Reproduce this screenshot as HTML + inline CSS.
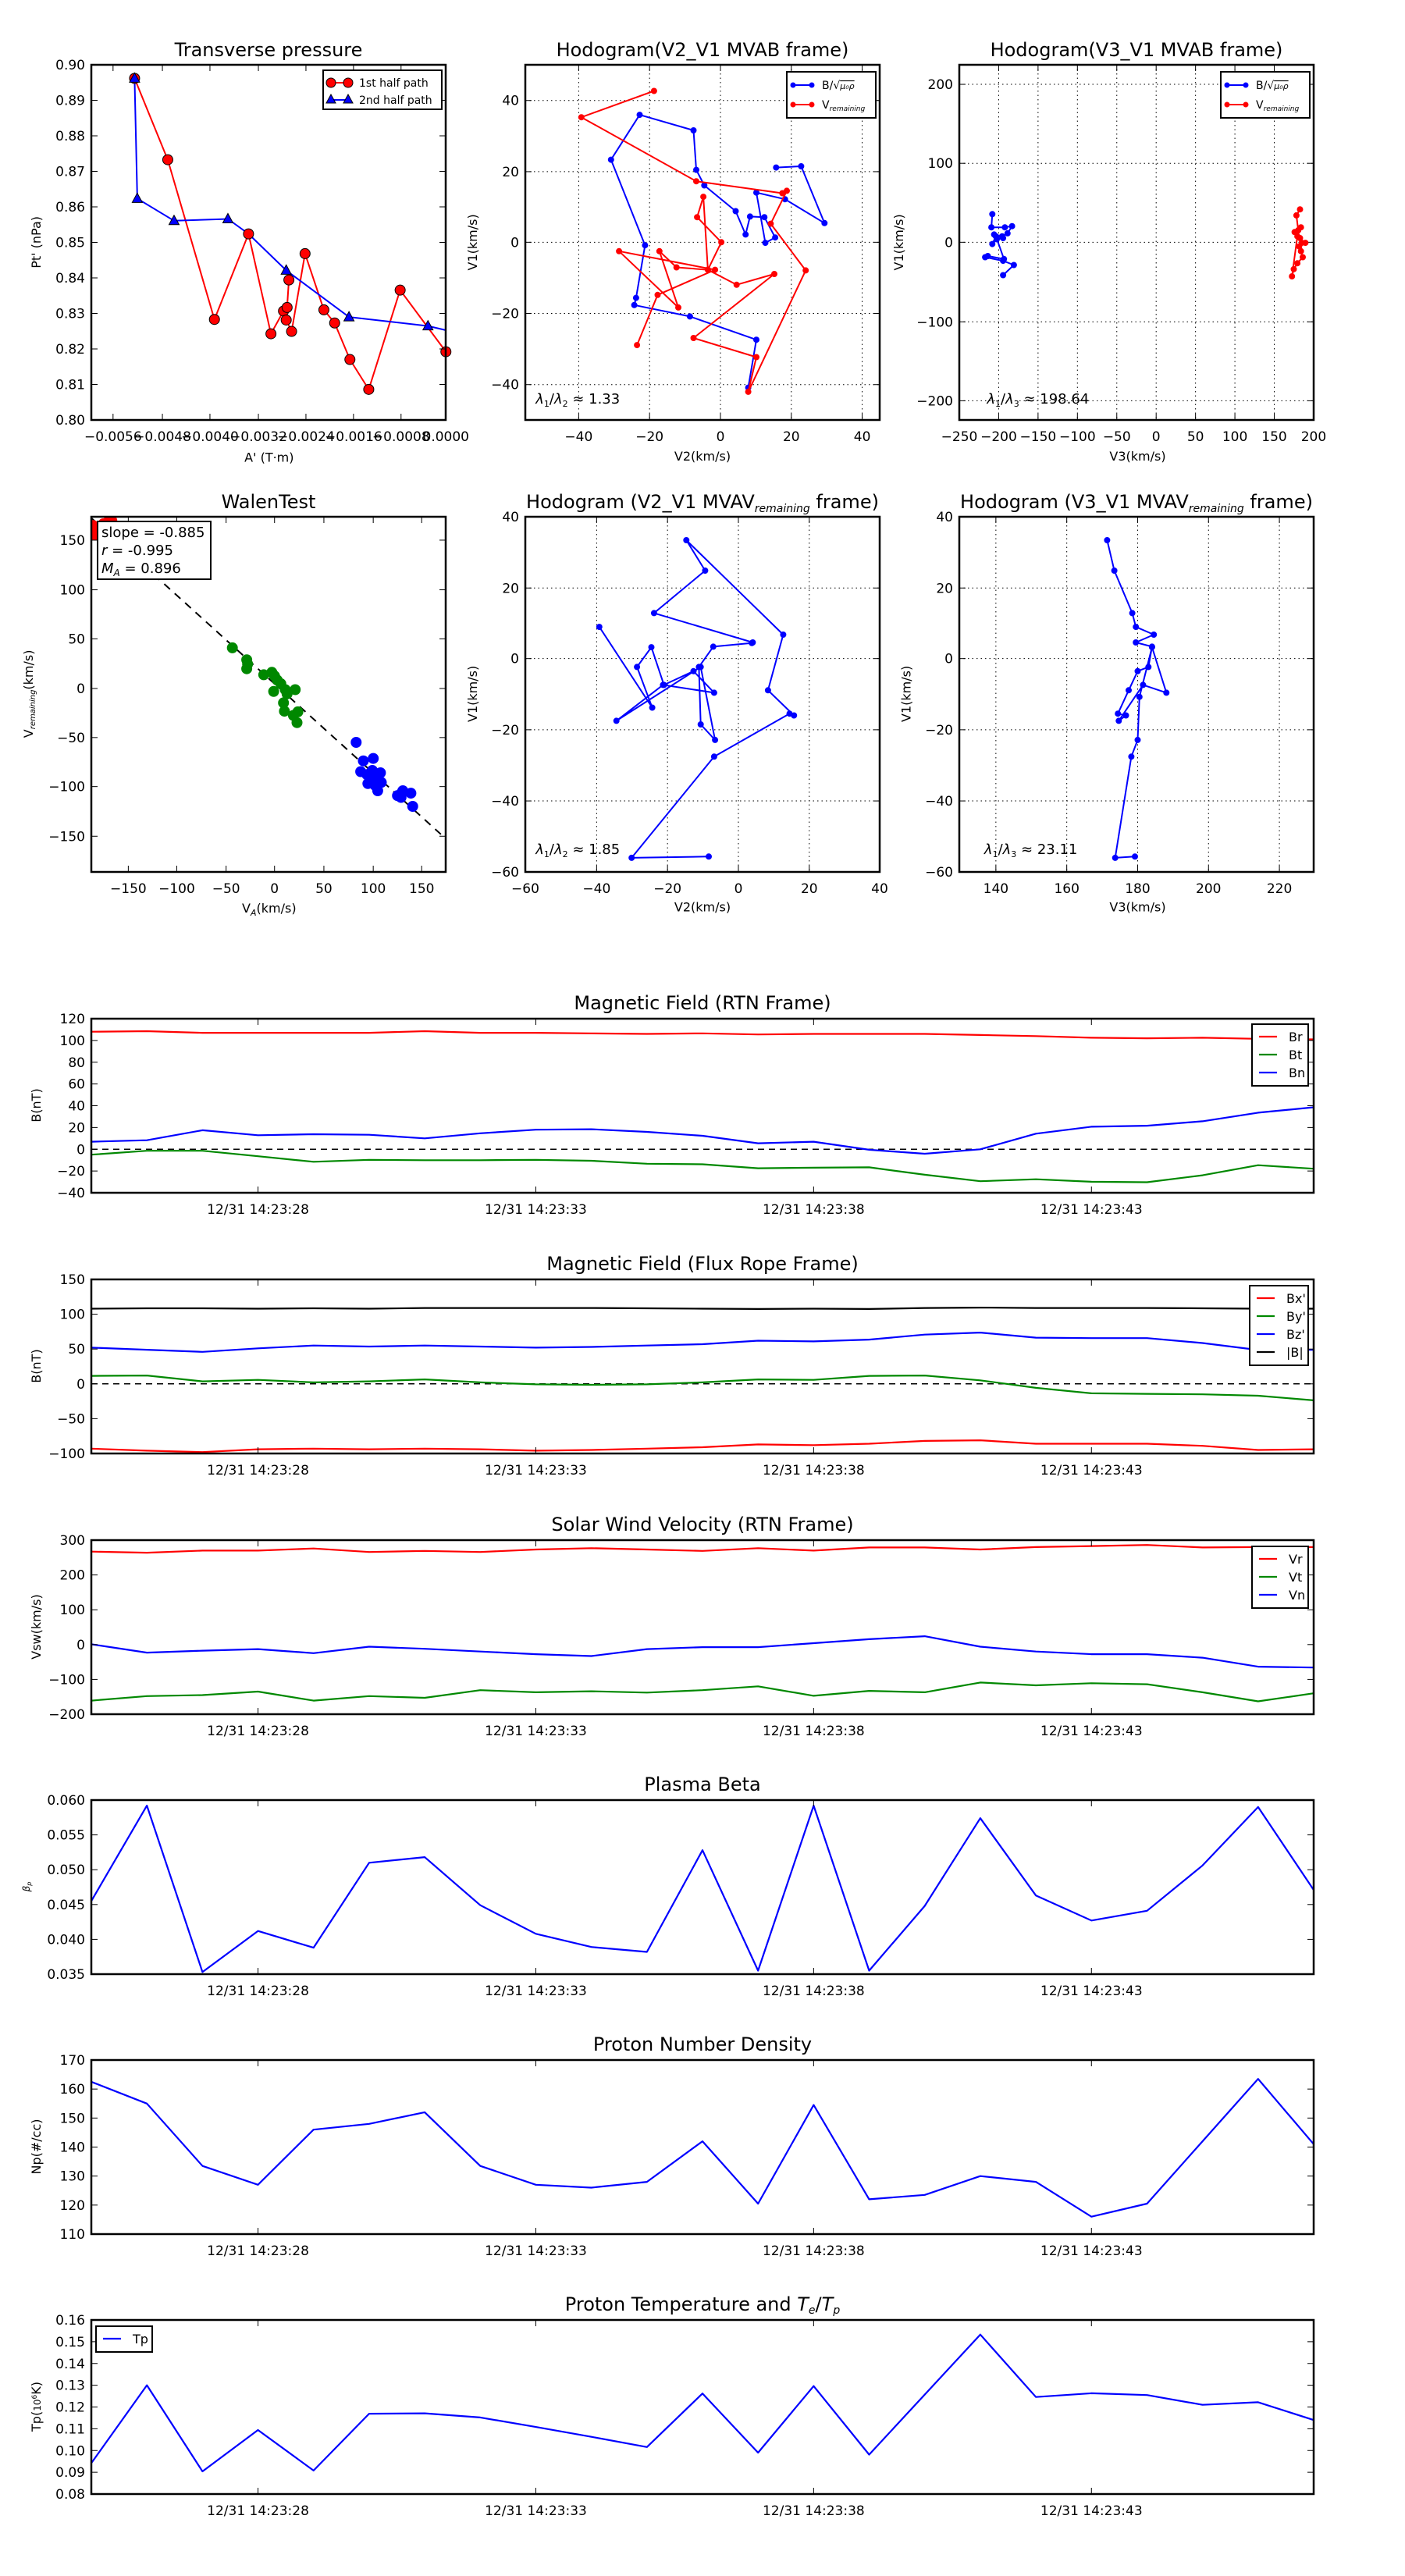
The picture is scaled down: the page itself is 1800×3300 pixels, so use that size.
<!DOCTYPE html>
<html><head><meta charset="utf-8"><style>
html,body{margin:0;padding:0;background:#fff;}
svg{display:block;font-family:"DejaVu Sans","Liberation Sans",sans-serif;}
</style></head><body>
<svg id="c" xmlns="http://www.w3.org/2000/svg" width="1800" height="3300" viewBox="0 0 1800 3300"></svg>
<script>
let s='';
const SX=0.870, SY=1.305;
function X(d){return d/SX;} function Y(d){return d/SY;}
function L(x1,y1,x2,y2,c,w,ex){s+=`<line x1="${x1}" y1="${y1}" x2="${x2}" y2="${y2}" stroke="${c||'#000'}" stroke-width="${w||1}" ${ex||''}/>`;}
function T(x,y,t,sz,anc,ex){s+=`<text x="${x}" y="${y}" font-size="${sz||17}" text-anchor="${anc||'middle'}" ${ex||''}>${t}</text>`;}
function PL(pts,c,w,ex){s+=`<polyline points="${pts.map(p=>p[0].toFixed(1)+','+p[1].toFixed(1)).join(' ')}" fill="none" stroke="${c}" stroke-width="${w||2}" stroke-linejoin="round" ${ex||''}/>`;}
function DOTS(pts,c,r){pts.forEach(p=>{s+=`<circle cx="${p[0].toFixed(1)}" cy="${p[1].toFixed(1)}" r="${r}" fill="${c}" stroke="${c}"/>`;});}
function frame(l,t,r,b){s+=`<rect x="${l}" y="${t}" width="${r-l}" height="${b-t}" fill="none" stroke="#000" stroke-width="2.5"/>`;}
// box, xt [[px,label]], yt [[py,label]], grid
function axes(l,t,r,b,xt,yt,grid){
  xt.forEach(([p,lab])=>{
    if(grid) L(p,t,p,b,'#000',1,'stroke-dasharray="1.5,4"');
    L(p,b,p,b-8);L(p,t,p,t+8);
    T(p,b+27,lab,17);
  });
  yt.forEach(([p,lab])=>{
    if(grid) L(l,p,r,p,'#000',1,'stroke-dasharray="1.5,4"');
    L(l,p,l+8,p);L(r,p,r-8,p);
    T(l-8,p+6,lab,17,'end');
  });
}
function ylab(x,y,t,sz){s+=`<text x="${x}" y="${y}" font-size="${sz||16}" text-anchor="middle" transform="rotate(-90 ${x} ${y})">${t}</text>`;}
const M=p=>[X(p[0]),Y(p[1])];

// ===== Panel 1: Transverse pressure
{
 const l=117,t=83,r=571,b=538;
 const red=[[150,131],[187,267],[239,534],[277,391],[302,558],[316,520],[320,514],[322,468],[319,535],[325,554],[340,424],[361,518],[373,540],[390,601],[411,651],[446,485],[497,588]].map(M);
 const blue=[[150,131],[153,332],[194,369],[254,366],[277,391],[319,452],[389,530],[477,545],[497,552]].map(M);
 PL(red,'#f00',2); PL(blue,'#00f',2);
 red.forEach(p=>{s+=`<circle cx="${p[0]}" cy="${p[1]}" r="6.5" fill="#f00" stroke="#000" stroke-width="1"/>`;});
 [[150,131],[153,332],[194,369],[254,366],[319,452],[389,530],[477,545]].map(M).forEach(p=>{s+=`<polygon points="${p[0]},${p[1]-7} ${p[0]-6.5},${p[1]+5} ${p[0]+6.5},${p[1]+5}" fill="#00f" stroke="#000" stroke-width="1"/>`;});
 frame(l,t,r,b);
 const xl=['−0.0056','−0.0048','−0.0040','−0.0032','−0.0024','−0.0016','−0.0008','0.0000'];
 axes(l,t,r,b,[126,181,234,288,341,394,447,497].map((d,i)=>[X(d),xl[i]]),
   Array.from({length:11},(_,k)=>[b-k*45.5,(0.80+k*0.01).toFixed(2)]),false);
 T(344,72,'Transverse pressure',24);
 T(X(300),Y(764)+6,"A' (T·m)",16);
 ylab(52,Y(405),"Pt' (nPa)");
 // legend
 s+=`<rect x="414" y="90" width="152" height="50" fill="#fff" stroke="#000" stroke-width="2"/>`;
 L(424,106,446,106,'#f00',2);
 s+=`<circle cx="424" cy="106" r="6" fill="#f00" stroke="#000"/><circle cx="446" cy="106" r="6" fill="#f00" stroke="#000"/>`;
 L(424,128,446,128,'#00f',2);
 s+=`<polygon points="424,121 418,132 430,132" fill="#00f" stroke="#000"/><polygon points="446,121 440,132 452,132" fill="#00f" stroke="#000"/>`;
 T(460,111,'1st half path',14,'start');T(460,133,'2nd half path',14,'start');
}
function hodoLegend(x,y){
 s+=`<rect x="${x}" y="${y}" width="114" height="59" fill="#fff" stroke="#000" stroke-width="2"/>`;
 L(x+8,y+17,x+32,y+17,'#00f',2);DOTS([[x+8,y+17],[x+32,y+17]],'#00f',3);
 L(x+8,y+42,x+32,y+42,'#f00',2);DOTS([[x+8,y+42],[x+32,y+42]],'#f00',3);
 T(x+45,y+22,'B/√<tspan font-style="italic" font-size="11" text-decoration="overline">μ₀ρ</tspan>',14,'start');
 T(x+45,y+47,'V<tspan font-size="9" font-style="italic" dy="3">remaining</tspan>',14,'start');
}
// ===== Panel 2
{
 const l=673,t=83,r=1127,b=538;
 frame(l,t,r,b);
 axes(l,t,r,b,[[X(645),'−40'],[X(724),'−20'],[X(803),'0'],[X(882),'20'],[X(961),'40']],
   [[Y(168),'40'],[Y(287),'20'],[Y(405),'0'],[Y(524),'−20'],[Y(643),'−40']],true);
 const blue=[[865,280],[893,278],[919,373],[875,333],[843,322],[853,406],[864,397],[852,363],[836,362],[831,392],[820,353],[785,310],[776,284],[773,218],[713,192],[681,267],[719,410],[709,498],[707,510],[769,529],[843,568],[834,648]].map(M);
 const red=[[729,152],[648,196],[776,303],[872,323],[877,319],[859,374],[898,452],[834,655],[843,597],[773,565],[863,458],[821,476],[789,451],[804,405],[777,363],[784,329],[789,451],[754,447],[735,420],[756,514],[690,420],[797,451],[733,493],[710,577]].map(M);
 PL(blue,'#00f',2);DOTS(blue,'#00f',3.5);PL(red,'#f00',2);DOTS(red,'#f00',3.5);
 hodoLegend(1008,92);
 T(X(597),Y(667)+6,'<tspan font-style="italic">λ</tspan><tspan font-size="11" dy="4">1</tspan><tspan dy="-4">/</tspan><tspan font-style="italic">λ</tspan><tspan font-size="11" dy="4">2</tspan><tspan dy="-4"> ≈ 1.33</tspan>',18,'start');
 T(900,72,'Hodogram(V2_V1 MVAB frame)',24);
 T(X(783),Y(762)+6,'V2(km/s)',16);
 ylab(X(530)+2,Y(405),'V1(km/s)');
}
// ===== Panel 3
{
 const l=1229,t=83,r=1683,b=538;
 frame(l,t,r,b);
 const xl=['−250','−200','−150','−100','−50','0','50','100','150','200'];
 axes(l,t,r,b,xl.map((lab,k)=>[l+k*50.44,lab]),
   [[Y(141),'200'],[Y(273),'100'],[Y(405),'0'],[Y(538),'−100'],[Y(670),'−200']],true);
 const blue=[[1106,358],[1105,380],[1120,380],[1128,378],[1123,390],[1117,395],[1108,392],[1118,398],[1111,400],[1106,408],[1110,395],[1119,433],[1101,428],[1098,430],[1118,436],[1130,443],[1118,460]].map(M);
 const red=[[1449,350],[1445,360],[1447,385],[1443,388],[1449,398],[1451,406],[1455,406],[1448,412],[1450,420],[1452,430],[1446,440],[1442,450],[1440,462],[1446,395],[1450,380]].map(M);
 PL(blue,'#00f',2);DOTS(blue,'#00f',3.5);PL(red,'#f00',2);DOTS(red,'#f00',3.5);
 hodoLegend(1564,92);
 T(X(1100),Y(667)+6,'<tspan font-style="italic">λ</tspan><tspan font-size="11" dy="4">1</tspan><tspan dy="-4">/</tspan><tspan font-style="italic">λ</tspan><tspan font-size="11" dy="4">3</tspan><tspan dy="-4"> ≈ 198.64</tspan>',18,'start');
 T(1456,72,'Hodogram(V3_V1 MVAB frame)',24);
 T(X(1268),Y(762)+6,'V3(km/s)',16);
 ylab(X(1005)+2,Y(405),'V1(km/s)');
}
// ===== Row2 Panel 1: Walen
{
 const l=117,t=662,r=571,b=1117;
 const xs=[143,197,252,306,361,416,470], xl=['−150','−100','−50','0','50','100','150'];
 const ys=[903,986,1068,1151,1233,1315,1398], yl=['150','100','50','0','−50','−100','−150'];
 L(l,Y(866),r,Y(1402),'#000',2,'stroke-dasharray="10,8"');
 const green=[[259,1083],[275,1103],[276,1110],[275,1118],[294,1128],[303,1124],[305,1156],[309,1137],[313,1143],[318,1153],[316,1175],[320,1160],[329,1153],[317,1189],[327,1196],[332,1190],[331,1208],[306,1130]].map(M);
 const blue=[[397,1241],[402,1290],[405,1272],[416,1268],[409,1295],[415,1288],[420,1300],[424,1292],[412,1305],[418,1313],[421,1322],[425,1308],[410,1310],[443,1330],[448,1325],[449,1322],[458,1326],[447,1333],[460,1348]].map(M);
 const red=[[104,888],[106,895],[110,880],[115,875],[120,872],[125,870],[104,878]].map(M);
 DOTS(green,'#080',6.5);DOTS(blue,'#00f',6.5);
 s+=`<clipPath id="cp1"><rect x="${l}" y="${t}" width="${r-l}" height="${b-t}"/></clipPath><g clip-path="url(#cp1)">`;
 red.forEach(p=>{s+=`<circle cx="${p[0]}" cy="${p[1]}" r="6.5" fill="#f00"/>`;});
 s+=`</g>`;
 frame(l,t,r,b);
 axes(l,t,r,b,xs.map((d,i)=>[X(d),xl[i]]),ys.map((d,i)=>[Y(d),yl[i]]),false);
 s+=`<rect x="125" y="668" width="145" height="74" fill="#fff" stroke="#000" stroke-width="2"/>`;
 T(130,688,'slope = -0.885',18,'start');
 T(130,711,'<tspan font-style="italic">r</tspan> = -0.995',18,'start');
 T(130,734,'<tspan font-style="italic">M</tspan><tspan font-size="12" font-style="italic" dy="4">A</tspan><tspan dy="-4"> = 0.896</tspan>',18,'start');
 T(344,651,'WalenTest',24);
 T(X(300),Y(1518)+6,'V<tspan font-size="11" font-style="italic" dy="4">A</tspan><tspan dy="-4">(km/s)</tspan>',16);
 ylab(X(35)+2,Y(1160),'V<tspan font-size="10" font-style="italic" dy="3">remaining</tspan><tspan dy="-3">(km/s)</tspan>');
}
// ===== Row2 Panel 2
{
 const l=673,t=662,r=1127,b=1117;
 frame(l,t,r,b);
 axes(l,t,r,b,[[673,'−60'],[X(665),'−40'],[X(744),'−20'],[X(823),'0'],[X(902),'20'],[1127,'40']],
   [[662,'40'],[Y(983),'20'],[Y(1101),'0'],[Y(1220),'−20'],[Y(1339),'−40'],[1117,'−60']],true);
 const blue=[[790,1432],[704,1434],[796,1265],[880,1193],[885,1196],[856,1154],[873,1061],[765,903],[786,954],[729,1025],[839,1074],[838,1075],[795,1081],[779,1115],[781,1211],[797,1237],[781,1115],[687,1205],[739,1145],[796,1158],[773,1122],[740,1145],[726,1082],[710,1115],[727,1183],[668,1048]].map(M);
 PL(blue,'#00f',2);DOTS(blue,'#00f',3.5);
 T(X(597),Y(1420)+6,'<tspan font-style="italic">λ</tspan><tspan font-size="11" dy="4">1</tspan><tspan dy="-4">/</tspan><tspan font-style="italic">λ</tspan><tspan font-size="11" dy="4">2</tspan><tspan dy="-4"> ≈ 1.85</tspan>',18,'start');
 T(900,651,'Hodogram (V2_V1 MVAV<tspan font-size="14" font-style="italic" dy="5">remaining</tspan><tspan dy="-5"> frame)</tspan>',24);
 T(X(783),Y(1516)+6,'V2(km/s)',16);
 ylab(X(530)+2,Y(1160),'V1(km/s)');
}
// ===== Row2 Panel 3
{
 const l=1229,t=662,r=1683,b=1117;
 frame(l,t,r,b);
 axes(l,t,r,b,[[X(1110),'140'],[X(1189),'160'],[X(1268),'180'],[X(1347),'200'],[X(1426),'220']],
   [[662,'40'],[Y(983),'20'],[Y(1101),'0'],[Y(1220),'−20'],[Y(1339),'−40'],[1117,'−60']],true);
 const blue=[[1234,903],[1242,954],[1262,1025],[1266,1048],[1286,1061],[1266,1074],[1284,1081],[1280,1115],[1268,1122],[1258,1154],[1246,1193],[1255,1196],[1247,1205],[1274,1145],[1300,1158],[1284,1082],[1270,1165],[1268,1237],[1261,1265],[1243,1434],[1265,1432]].map(M);
 PL(blue,'#00f',2);DOTS(blue,'#00f',3.5);
 T(X(1097),Y(1420)+6,'<tspan font-style="italic">λ</tspan><tspan font-size="11" dy="4">1</tspan><tspan dy="-4">/</tspan><tspan font-style="italic">λ</tspan><tspan font-size="11" dy="4">3</tspan><tspan dy="-4"> ≈ 23.11</tspan>',18,'start');
 T(1456,651,'Hodogram (V3_V1 MVAV<tspan font-size="14" font-style="italic" dy="5">remaining</tspan><tspan dy="-5"> frame)</tspan>',24);
 T(X(1268),Y(1516)+6,'V3(km/s)',16);
 ylab(X(1013)+2,Y(1160),'V1(km/s)');
}
// ===== Time series
const TL=117,TR=1683,DX=(TR-TL)/22;
const tickX=[3,8,13,18].map(i=>TL+i*DX), tickL=['12/31 14:23:28','12/31 14:23:33','12/31 14:23:38','12/31 14:23:43'];
function ts(top,ymin,ymax,yticks,series,opt){
 const bot=top+223, yp=v=>bot-(v-ymin)/(ymax-ymin)*(bot-top);
 s+=`<clipPath id="c${top}"><rect x="${TL}" y="${top}" width="${TR-TL}" height="223"/></clipPath><g clip-path="url(#c${top})">`;
 if(opt.zero) L(TL,yp(0),TR,yp(0),'#000',1.5,'stroke-dasharray="8,6"');
 series.forEach(([c,d])=>PL(d.map((v,i)=>[TL+i*DX,yp(v)]),c,2.2));
 s+=`</g>`;
 frame(TL,top,TR,bot);
 axes(TL,top,TR,bot,tickX.map((x,i)=>[x,tickL[i]]),yticks.map(v=>[yp(v),opt.fmt?opt.fmt(v):String(v).replace('-','−')]),false);
 T(900,top-12,opt.title,24);
 ylab(opt.ylx||52,top+111,opt.ylabel,opt.ylsz||16);
 if(opt.leg){
   const [lx,ly,w]=opt.legBox, n=opt.leg.length;
   s+=`<rect x="${lx}" y="${ly}" width="${w}" height="${n*23+10}" fill="#fff" stroke="#000" stroke-width="2"/>`;
   opt.leg.forEach(([c,t],k)=>{const yy=ly+16+k*23;L(lx+9,yy,lx+32,yy,c,2.2);T(lx+47,yy+6,t,16,'start');});
 }
}
ts(1305,-40,120,[-40,-20,0,20,40,60,80,100,120],[
 ['#f00',[108,108.5,107,107,107,107,108.5,107,107,106.5,106,106.5,105.5,106,106,106,105,104,102.5,102,102.5,101.5,101]],
 ['#080',[-5,-1.4,-1.4,-6.4,-11.5,-9.7,-10.1,-10.1,-9.7,-10.6,-13.3,-13.8,-17.5,-17,-16.6,-23.4,-29.4,-27.6,-29.9,-30.3,-23.9,-14.7,-17.9]],
 ['#00f',[6.9,8.3,17.5,12.9,13.8,13.3,10,14.7,18,18.4,16,12.4,5.5,6.9,-0.5,-4.1,0,14.3,20.7,21.6,25.7,33.6,38.6]]],
 {zero:1,title:'Magnetic Field (RTN Frame)',ylabel:'B(nT)',leg:[['#f00','Br'],['#080','Bt'],['#00f','Bn']],legBox:[1604,1312,72]});
ts(1639,-100,150,[-100,-50,0,50,100,150],[
 ['#000',[108,108.5,108.5,108,108.5,108,109,109,109,109,108.5,108,107.5,108,107.5,109,109.5,109,109,109,108.5,108,108]],
 ['#00f',[52,49,46,51,55,53.6,55,53.6,52,53,55,57,62,61,63.6,70.7,73.6,66.4,65.7,65.7,58.6,48.6,49]],
 ['#080',[11.4,12,3.6,5.7,2.1,3.6,6.4,2.1,-0.7,-1.4,-0.7,2.1,6.4,5.7,11.4,12,5,-5.7,-13.6,-14.3,-15,-17,-23.6]],
 ['#f00',[-93,-96,-98,-94,-93,-94,-93,-94,-96,-95,-93,-91,-87,-88,-86,-82,-81,-86,-86,-86,-89,-95,-94]]],
 {zero:1,title:'Magnetic Field (Flux Rope Frame)',ylabel:'B(nT)',leg:[['#f00',"Bx'"],['#080',"By'"],['#00f',"Bz'"],['#000','|B|']],legBox:[1601,1647,75]});
ts(1973,-200,300,[-200,-100,0,100,200,300],[
 ['#f00',[267,264,270,270,276,266,269,266,273,277,273,269,277,270,279,279,273,280,283,286,279,280,280]],
 ['#080',[-161,-148,-145,-135,-161,-148,-153,-131,-137,-134,-138,-131,-120,-147,-133,-137,-109,-117,-111,-114,-137,-163,-140]],
 ['#00f',[1,-23,-17.5,-13,-24.7,-6,-12,-20,-27.6,-33,-13,-7.5,-7.5,4,15.5,24,-6,-20,-27.6,-27.6,-37.6,-63.5,-66]]],
 {title:'Solar Wind Velocity (RTN Frame)',ylabel:'Vsw(km/s)',leg:[['#f00','Vr'],['#080','Vt'],['#00f','Vn']],legBox:[1604,1981,72]});
ts(2306,0.035,0.060,[0.035,0.040,0.045,0.050,0.055,0.060],[
 ['#00f',[0.0455,0.0592,0.0353,0.0412,0.0388,0.0510,0.0518,0.0449,0.0408,0.0389,0.0382,0.0528,0.0355,0.0592,0.0355,0.0448,0.0574,0.0463,0.0427,0.0441,0.0506,0.0590,0.0471]]],
 {title:'Plasma Beta',ylabel:'<tspan font-style="italic">β</tspan><tspan font-size="8" font-style="italic" dy="2">p</tspan>',ylsz:12,ylx:38,fmt:v=>v.toFixed(3)});
ts(2639,110,170,[110,120,130,140,150,160,170],[
 ['#00f',[162.5,155,133.5,127,146,148,152,133.5,127,126,128,142,120.5,154.5,122,123.5,130,128,116,120.5,142,163.5,141]]],
 {title:'Proton Number Density',ylabel:'Np(#/cc)'});
ts(2972,0.08,0.16,[0.08,0.09,0.10,0.11,0.12,0.13,0.14,0.15,0.16],[
 ['#00f',[0.0942,0.130,0.0904,0.1094,0.0908,0.1169,0.1171,0.1152,0.1108,0.1063,0.1016,0.1262,0.0990,0.1296,0.0981,0.1257,0.1533,0.1246,0.1263,0.1255,0.1210,0.1222,0.1140]]],
 {title:'Proton Temperature and <tspan font-style="italic">T</tspan><tspan font-size="14" font-style="italic" dy="4">e</tspan><tspan dy="-4">/</tspan><tspan font-style="italic">T</tspan><tspan font-size="14" font-style="italic" dy="4">p</tspan>',ylabel:'Tp(<tspan font-size="12">10</tspan><tspan font-size="9" dy="-5">6</tspan><tspan dy="5">K)</tspan>',fmt:v=>v.toFixed(2),leg:[['#00f','Tp']],legBox:[123,2980,72]});
document.getElementById('c').innerHTML=s;
</script>
</body></html>
